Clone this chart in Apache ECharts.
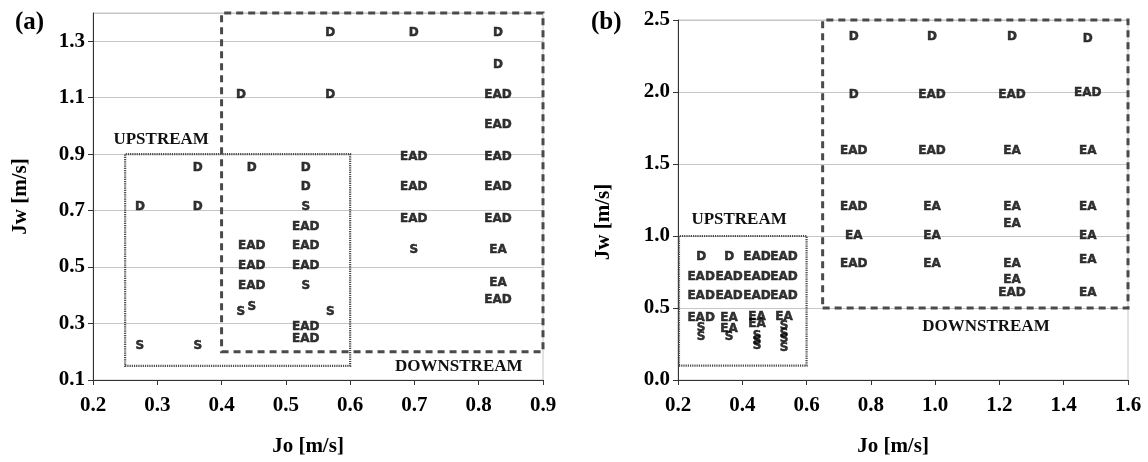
<!DOCTYPE html>
<html>
<head>
<meta charset="utf-8">
<script src="https://cdn.jsdelivr.net/npm/echarts@6/dist/echarts.min.js"></script>
<style>
  html, body { margin: 0; padding: 0; background: #fff; }
  #chart { width: 1148px; height: 462px; }
</style>
</head>
<body>
<div id="chart"></div>
<script>
// Flow-regime maps: superficial oil velocity Jo vs water velocity Jw.
// Each observed regime is drawn as its code (D, EAD, EA, S) at its (Jo, Jw) point.

// ---- panel (a) ----
const aXTicks = [0.2, 0.3, 0.4, 0.5, 0.6, 0.7, 0.8, 0.9];
const aYTicks = [0.1, 0.3, 0.5, 0.7, 0.9, 1.1, 1.3];
const aYMax = 1.4;
const aD = [
  [0.273, 0.712], [0.363, 0.852], [0.363, 0.712], [0.447, 0.852], [0.531, 0.852],
  [0.531, 0.784], [0.430, 1.109], [0.569, 1.331], [0.569, 1.109], [0.699, 1.331],
  [0.830, 1.331], [0.830, 1.218]
];
const aEAD = [
  [0.447, 0.575], [0.447, 0.503], [0.447, 0.432],
  [0.531, 0.644], [0.531, 0.575], [0.531, 0.503], [0.531, 0.288], [0.531, 0.247],
  [0.699, 0.890], [0.699, 0.784], [0.699, 0.671],
  [0.830, 1.109], [0.830, 1.003], [0.830, 0.890], [0.830, 0.784], [0.830, 0.671], [0.830, 0.384]
];
const aEA = [[0.830, 0.562], [0.830, 0.445]];
const aS = [
  [0.273, 0.220], [0.363, 0.220], [0.430, 0.343], [0.447, 0.360], [0.531, 0.712],
  [0.531, 0.432], [0.569, 0.343], [0.699, 0.562]
];
const aUpstreamBox = [[0.25, 0.15], [0.6, 0.9]];
const aDownstreamBox = [[0.4, 0.2], [0.9, 1.4]];

// ---- panel (b) ----
const bXTicks = [0.2, 0.4, 0.6, 0.8, 1.0, 1.2, 1.4, 1.6];
const bYTicks = [0.0, 0.5, 1.0, 1.5, 2.0, 2.5];
const bD = [
  [0.747, 2.385], [0.990, 2.385], [1.239, 2.385], [1.475, 2.372], [0.747, 1.980],
  [0.272, 0.858], [0.359, 0.858]
];
const bEAD = [
  [0.990, 1.980], [1.239, 1.980], [1.475, 1.993], [0.747, 1.588], [0.990, 1.588],
  [0.747, 1.203], [0.747, 0.804], [1.239, 0.608],
  [0.446, 0.858], [0.530, 0.858],
  [0.272, 0.716], [0.359, 0.716], [0.446, 0.716], [0.530, 0.716],
  [0.272, 0.581], [0.359, 0.581], [0.446, 0.581], [0.530, 0.581],
  [0.272, 0.432]
];
const bEA = [
  [1.239, 1.588], [1.475, 1.588], [0.990, 1.203], [1.239, 1.203], [1.475, 1.203],
  [1.239, 1.081], [0.747, 1.000], [0.990, 1.000], [1.475, 1.000], [0.990, 0.804],
  [1.239, 0.804], [1.475, 0.831], [1.239, 0.696], [1.475, 0.608],
  [0.359, 0.432], [0.446, 0.439], [0.530, 0.439], [0.359, 0.358], [0.446, 0.392]
];
const bS = [
  [0.272, 0.365], [0.272, 0.297], [0.359, 0.297], [0.446, 0.304], [0.446, 0.270],
  [0.446, 0.236], [0.530, 0.375], [0.530, 0.320], [0.530, 0.284], [0.530, 0.226]
];
const bUpstreamBox = [[0.203, 0.1], [0.6, 1.0]];
const bDownstreamBox = [[0.65, 0.5], [1.6, 2.5]];

const SERIF = '"Liberation Serif", "Times New Roman", serif';
const SANS = '"DejaVu Sans", Verdana, sans-serif';
const GRID_GREY = '#c6c6c6';

function step(ticks) { return +(ticks[1] - ticks[0]).toFixed(6); }

function xAxisFor(gridIndex, ticks) {
  return {
    type: 'value', gridIndex,
    min: ticks[0], max: ticks[ticks.length - 1], interval: step(ticks),
    name: 'Jo [m/s]', nameLocation: 'middle', nameGap: 56,
    nameTextStyle: { fontFamily: SERIF, fontWeight: 'bold', fontSize: 21, color: '#000', padding: [0, 20, 0, 0] },
    axisLine: { show: true, lineStyle: { color: '#333', width: 1 } },
    axisTick: { show: true, inside: false, length: 5, lineStyle: { color: '#333' } },
    axisLabel: { margin: 15, fontFamily: SERIF, fontWeight: 'bold', fontSize: 21, color: '#000',
                 formatter: v => v.toFixed(1) },
    splitLine: { show: false }
  };
}

function yAxisFor(gridIndex, ticks, max, gap, namePad) {
  return {
    type: 'value', gridIndex,
    min: ticks[0], max: max, interval: step(ticks),
    name: 'Jw [m/s]', nameLocation: 'middle', nameGap: gap, nameRotate: 90,
    nameTextStyle: { fontFamily: SERIF, fontWeight: 'bold', fontSize: 21, color: '#000', padding: namePad },
    axisLine: { show: true, lineStyle: { color: '#333', width: 1 } },
    axisTick: { show: true, inside: false, length: 5, lineStyle: { color: '#333' } },
    axisLabel: { margin: 8, fontFamily: SERIF, fontWeight: 'bold', fontSize: 21, color: '#000',
                 showMaxLabel: max === ticks[ticks.length - 1],
                 formatter: v => v.toFixed(1) },
    splitLine: { show: true, lineStyle: { color: GRID_GREY, width: 1 } }
  };
}

function codeSeries(name, data, axisIndex) {
  return {
    name, type: 'scatter', data,
    xAxisIndex: axisIndex, yAxisIndex: axisIndex,
    symbolSize: 0, silent: true,
    label: {
      show: true, position: 'inside', formatter: name,
      fontFamily: SANS, fontWeight: 'bold', fontSize: 12, color: '#000',
      textBorderColor: '#000', textBorderWidth: 0.5
    },
    z: 5
  };
}

function regionSeries(axisIndex, upBox, downBox, upLabelAt, downLabelAt) {
  const note = (text, coord) => ({
    coord, value: text, symbol: 'circle', symbolSize: 0,
    label: { show: true, position: 'inside', formatter: text,
             fontFamily: SERIF, fontWeight: 'bold', fontSize: 17, color: '#111' }
  });
  return {
    type: 'scatter', data: [], xAxisIndex: axisIndex, yAxisIndex: axisIndex, silent: true,
    markArea: {
      silent: true,
      data: [
        [{ coord: downBox[0], itemStyle: { color: 'rgba(0,0,0,0)', borderColor: '#4a4a4a', borderWidth: 3, borderType: [7, 5] } },
         { coord: downBox[1] }],
        [{ coord: upBox[0], itemStyle: { color: 'rgba(0,0,0,0)', borderColor: '#4a4a4a', borderWidth: 2.2, borderType: [1.2, 1] } },
         { coord: upBox[1] }]
      ]
    },
    markPoint: { silent: true, data: [note('UPSTREAM', upLabelAt), note('DOWNSTREAM', downLabelAt)] },
    z: 3
  };
}

const chart = echarts.init(document.getElementById('chart'), null, { renderer: 'canvas' });

chart.setOption({
  animation: false,
  backgroundColor: '#fff',
  title: [
    { text: '(a)', left: 10, top: 5, textStyle: { fontFamily: SERIF, fontWeight: 'bold', fontSize: 25, color: '#000' } },
    { text: '(b)', left: 586, top: 5, textStyle: { fontFamily: SERIF, fontWeight: 'bold', fontSize: 25, color: '#000' } }
  ],
  grid: [
    { left: 93, top: 13, width: 450, height: 380, show: true, borderColor: GRID_GREY, borderWidth: 1 },
    { left: 678, top: 20, width: 450, height: 372, show: true, borderColor: GRID_GREY, borderWidth: 1 }
  ],
  xAxis: [xAxisFor(0, aXTicks), xAxisFor(1, bXTicks)],
  yAxis: [yAxisFor(0, aYTicks, aYMax, 62, [0, 0, 0, 0]),
          yAxisFor(1, bYTicks, bYTicks[bYTicks.length - 1], 64, [0, 44, 0, 0])],
  series: [
    regionSeries(0, aUpstreamBox, aDownstreamBox, [0.306, 0.951], [0.769, 0.148]),
    codeSeries('D', aD, 0),
    codeSeries('EAD', aEAD, 0),
    codeSeries('EA', aEA, 0),
    codeSeries('S', aS, 0),
    regionSeries(1, bUpstreamBox, bDownstreamBox, [0.390, 1.115], [1.158, 0.372]),
    codeSeries('D', bD, 1),
    codeSeries('EAD', bEAD, 1),
    codeSeries('EA', bEA, 1),
    codeSeries('S', bS, 1)
  ]
});
</script>
</body>
</html>
